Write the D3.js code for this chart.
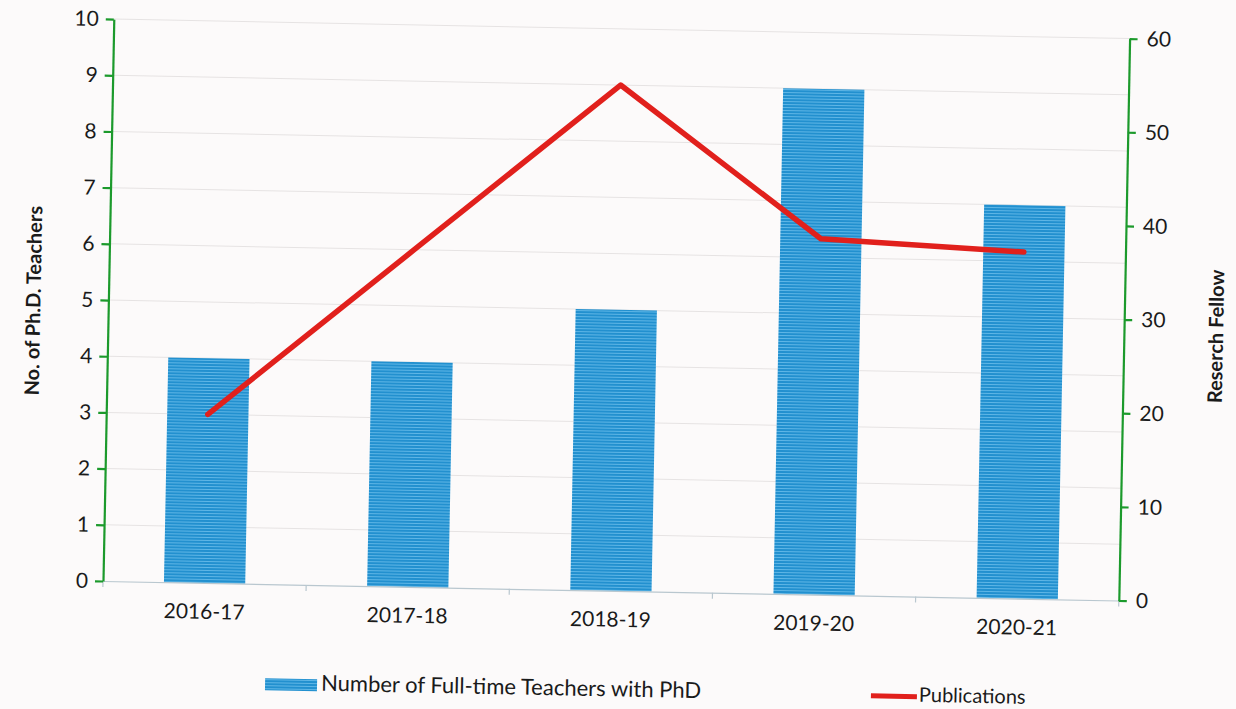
<!DOCTYPE html>
<html>
<head>
<meta charset="utf-8">
<script src="https://cdn.jsdelivr.net/npm/d3@7"></script>
<style>
  html, body { margin: 0; padding: 0; background: #fcfafa; }
  svg { display: block; }
  text { font-family: Lato, "Open Sans", sans-serif; fill: #1a1a1a; }
</style>
</head>
<body>
<svg id="chart" width="1236" height="709"></svg>
<script>
// Academic years on the category axis
const years = ["2016-17", "2017-18", "2018-19", "2019-20", "2020-21"];
// Number of full-time teachers holding a PhD (left axis)
const phdTeachers = [4, 4, 5, 9, 7];
// Publications (right axis)
const publications = [18, 36, 54, 38, 37];
// Axis ticks
const leftTicks = [0, 1, 2, 3, 4, 5, 6, 7, 8, 9, 10];
const rightTicks = [0, 10, 20, 30, 40, 50, 60];

const svg = d3.select("#chart");
const W = 1236, H = 709;

svg.append("rect").attr("width", W).attr("height", H).attr("fill", "#fcfafa");

// Horizontal stripe texture for the bars
const defs = svg.append("defs");
const pat = defs.append("pattern")
  .attr("id", "stripes").attr("patternUnits", "userSpaceOnUse")
  .attr("width", 6).attr("height", 3);
pat.append("rect").attr("width", 6).attr("height", 3).attr("fill", "#2290cf");
pat.append("rect").attr("y", 1).attr("width", 6).attr("height", 1).attr("fill", "#5fb6e6");

const plot = { left: 103, right: 1119, top: 19, bottom: 581 };

// The whole chart sits slightly tilted on the page
const g = svg.append("g").attr("transform", `rotate(1.1, ${plot.left}, ${plot.bottom})`);

const xBand = d3.scaleBand().domain(years).range([plot.left, plot.right]);
const yL = d3.scaleLinear().domain([0, 10]).range([plot.bottom, plot.top]);
const yR = d3.scaleLinear().domain([0, 60]).range([plot.bottom, plot.top]);

// Gridlines
g.append("g").selectAll("line").data(leftTicks.filter(d => d > 0)).join("line")
  .attr("x1", plot.left).attr("x2", plot.right)
  .attr("y1", d => yL(d)).attr("y2", d => yL(d))
  .attr("stroke", "#e6e3e3").attr("stroke-width", 1);

// Bars
g.append("g").selectAll("rect").data(years).join("rect")
  .attr("x", d => xBand(d) + xBand.bandwidth() * 0.3)
  .attr("width", xBand.bandwidth() * 0.4)
  .attr("y", (d, i) => yL(phdTeachers[i]))
  .attr("height", (d, i) => yL(0) - yL(phdTeachers[i]))
  .attr("fill", "url(#stripes)");

// Category axis
const xAxis = g.append("g").attr("transform", `translate(0,${plot.bottom})`)
  .call(d3.axisBottom(xBand).tickSize(0).tickPadding(21));
xAxis.select(".domain").attr("stroke", "#b9c7cf").attr("stroke-width", 1.2);
xAxis.selectAll("text").style("font-size", "21px").attr("fill", "#1a1a1a");
// Band boundary ticks
g.append("g").selectAll("line").data(d3.range(years.length + 1)).join("line")
  .attr("x1", i => plot.left + i * xBand.step()).attr("x2", i => plot.left + i * xBand.step())
  .attr("y1", plot.bottom).attr("y2", plot.bottom + 6)
  .attr("stroke", "#b9c7cf").attr("stroke-width", 1.2);

// Left axis
const la = g.append("g").attr("transform", `translate(${plot.left},0)`)
  .call(d3.axisLeft(yL).tickValues(leftTicks).tickSize(8).tickPadding(7).tickSizeOuter(0));
la.selectAll(".domain, line").attr("stroke", "#1c9a2c").attr("stroke-width", 2.2);
la.selectAll("text").style("font-size", "21px").attr("fill", "#1a1a1a");

// Right axis
const ra = g.append("g").attr("transform", `translate(${plot.right},0)`)
  .call(d3.axisRight(yR).tickValues(rightTicks).tickSize(8).tickPadding(9).tickSizeOuter(0));
ra.selectAll(".domain, line").attr("stroke", "#1c9a2c").attr("stroke-width", 2.2);
ra.selectAll("text").style("font-size", "21px").attr("fill", "#1a1a1a");

// Publications line
const line = d3.line()
  .x((d, i) => xBand(years[i]) + xBand.bandwidth() / 2)
  .y(d => yR(d));
g.append("path").datum(publications)
  .attr("d", line).attr("fill", "none")
  .attr("stroke", "#e1201c").attr("stroke-width", 5.5)
  .attr("stroke-linejoin", "round").attr("stroke-linecap", "round");

// Axis titles
g.append("text")
  .attr("transform", `translate(30,${(plot.top + plot.bottom) / 2 + 2}) rotate(-90)`)
  .attr("text-anchor", "middle").attr("dominant-baseline", "middle")
  .style("font-size", "20px").style("font-weight", "bold")
  .text("No. of Ph.D. Teachers");
g.append("text")
  .attr("transform", `translate(1213,${(plot.top + plot.bottom) / 2 + 15}) rotate(-90)`)
  .attr("text-anchor", "middle").attr("dominant-baseline", "middle")
  .style("font-size", "20px").style("font-weight", "bold")
  .text("Reserch Fellow");

// Legend
const leg = g.append("g").attr("transform", `translate(0,${plot.bottom + 100})`);
leg.append("rect").attr("x", 267).attr("y", -6).attr("width", 52).attr("height", 12).attr("fill", "url(#stripes)");
leg.append("text").attr("x", 323).attr("y", 0).attr("dominant-baseline", "middle")
  .style("font-size", "22px").text("Number of Full-time Teachers with PhD");
leg.append("line").attr("x1", 873).attr("x2", 919).attr("y1", 0).attr("y2", 0)
  .attr("stroke", "#e1201c").attr("stroke-width", 5);
leg.append("text").attr("x", 921).attr("y", 0).attr("dominant-baseline", "middle")
  .style("font-size", "20px").text("Publications");
</script>
</body>
</html>
